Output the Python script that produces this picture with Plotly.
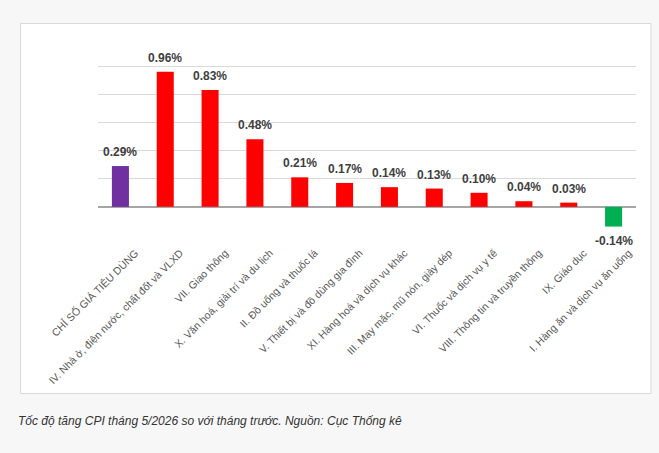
import plotly.graph_objects as go

categories = [
    "CHỈ SỐ GIÁ TIÊU DÙNG",
    "IV. Nhà ở, điện nước, chất đốt và VLXD",
    "VII. Giao thông",
    "X. Văn hoá, giải trí và du lịch",
    "II. Đồ uống và thuốc lá",
    "V. Thiết bị và đồ dùng gia đình",
    "XI. Hàng hoá và dịch vụ khác",
    "III. May mặc, mũ nón, giày dép",
    "VI. Thuốc và dịch vụ y tế",
    "VIII. Thông tin và truyền thông",
    "IX. Giáo dục",
    "I. Hàng ăn và dịch vụ ăn uống",
]
values = [0.29, 0.96, 0.83, 0.48, 0.21, 0.17, 0.14, 0.13, 0.10, 0.04, 0.03, -0.14]
colors = ["#7030A0"] + ["#FF0000"] * 10 + ["#00B050"]
caption = "Tốc độ tăng CPI tháng 5/2026 so với tháng trước. Nguồn: Cục Thống kê"

W, H = 659, 453
ML, MR, MT, MB = 98, 23, 38, 218
pw, ph = W - ML - MR, H - MT - MB

fig = go.Figure()
fig.add_trace(go.Bar(
    x=categories, y=values, marker=dict(color=colors, line=dict(width=0)),
    width=0.38, hoverinfo="skip",
))

annotations = []
for c, v in zip(categories, values):
    annotations.append(dict(
        x=c, y=v, xref="x", yref="y", text=f"{v:.2f}%", showarrow=False,
        yshift=14 if v >= 0 else -14, xanchor="center", yanchor="middle",
        font=dict(family="Liberation Sans, Arial", size=12, color="#404040", weight="bold"),
    ))

def px_x(p):
    return (p - ML) / pw

def px_y(p):
    return (H - MB - p) / ph

annotations.append(dict(
    x=px_x(16), y=px_y(421), xref="paper", yref="paper", text=f"<i>{caption}</i>",
    showarrow=False, xanchor="left", yanchor="middle",
    font=dict(family="Liberation Sans, Arial", size=12, color="#333333"),
))

fig.update_layout(
    width=W, height=H,
    margin=dict(l=ML, r=MR, t=MT, b=MB, pad=0),
    paper_bgcolor="#f7f7f7", plot_bgcolor="rgba(0,0,0,0)",
    showlegend=False,
    annotations=annotations,
    shapes=[dict(
        type="rect", xref="paper", yref="paper", layer="below",
        x0=px_x(20.5), x1=px_x(651), y0=px_y(393.5), y1=px_y(23.5),
        fillcolor="#ffffff", line=dict(color="#d9d9d9", width=1),
    )],
    bargap=0.6,
)
fig.update_xaxes(
    tickangle=-45, tickfont=dict(family="Liberation Sans, Arial", size=10.5, color="#595959"),
    showgrid=False, showline=False, ticks="",
    ticklabelstandoff=9, ticklabelshift=15,
)
fig.update_yaxes(
    range=[-0.2, 1.2], dtick=0.2, tick0=0, showticklabels=False,
    showgrid=True, gridcolor="#d9d9d9", gridwidth=1,
    zeroline=True, zerolinecolor="#a6a6a6", zerolinewidth=1.5, showline=False,
)

fig.write_html("out.html")
